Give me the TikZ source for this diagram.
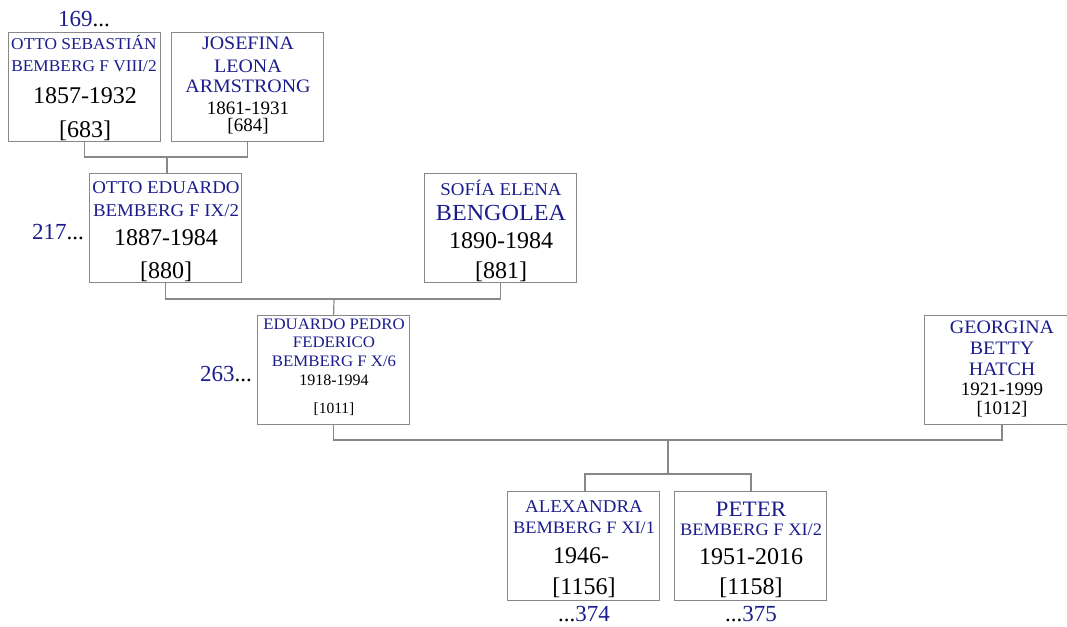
\documentclass[tikz,border=0pt]{standalone}
\usepackage{fontspec}
\setmainfont{Liberation Serif}
\definecolor{nameblue}{RGB}{28,28,140}
\definecolor{boxgray}{RGB}{136,136,136}
\newcommand{\fs}[1]{\fontsize{#1}{#1}\selectfont}
\tikzset{
  pbox/.style={draw=boxgray, line width=1.2pt, fill=white, minimum width=152pt, minimum height=109pt, inner sep=0pt, anchor=north west},
  nm/.style={text=nameblue, inner sep=0pt, anchor=base, font=\fs{#1}, xscale=1.05},
  dt/.style={text=black, inner sep=0pt, anchor=base, font=\fs{#1}},
  conn/.style={draw=boxgray, line width=1.2pt}
}
\begin{document}
\begin{tikzpicture}[x=1pt,y=-1pt]
\useasboundingbox (0,0) rectangle (1067,626);
% boxes
\node[pbox] (b1) at (8,32) {};
\node[pbox] (b2) at (171,32) {};
\node[pbox] (b3) at (89,173) {};
\node[pbox] (b4) at (424,173) {};
\node[pbox] (b5) at (257,315) {};
\node[pbox] (b6) at (924,315) {};
\node[pbox] (b7) at (507,491) {};
\node[pbox] (b8) at (674,491) {};
% connectors
\coordinate (j1) at (167,157);
\coordinate (j2) at (334,299);
\coordinate (j3) at (668,440);
\coordinate (j4) at (668,474);
\draw[conn] (b1.south) |- (j1) -| (b2.south);
\draw[conn] (j1) -- (b3.north -| j1);
\draw[conn] (b3.south) |- (j2) -| (b4.south);
\draw[conn] (j2) -- (b5.north);
\draw[conn] (b5.south) |- (j3) -| (1002,424);
\draw[conn] (j3) -- (j4);
\draw[conn] (b7.north -| 585,0) |- (j4) -| (b8.north -| 751,0);
% box 1
\node[nm=16.5] (t1a) at (84,50) {OTTO SEBASTIÁN};
\node[nm=16.5] (t1b) at (84,71) {BEMBERG F VIII/2};
\node[dt=24] (t1c) at (85,103) {1857-1932};
\node[dt=24] (t1d) at (85,137) {[683]};
% box 2
\node[nm=19] (t2a) at (248,50) {JOSEFINA};
\node[nm=19] (t2b) at (248,72) {LEONA};
\node[nm=19] (t2c) at (248,92) {ARMSTRONG};
\node[dt=19] (t2d) at (248,114) {1861-1931};
\node[dt=19] (t2e) at (248,131) {[684]};
% box 3
\node[nm=18] (t3a) at (166,193) {OTTO EDUARDO};
\node[nm=18] (t3b) at (166,216) {BEMBERG F IX/2};
\node[dt=24] (t3c) at (166,245) {1887-1984};
\node[dt=24] (t3d) at (166,278) {[880]};
% box 4
\node[nm=18] (t4a) at (501,195) {SOFÍA ELENA};
\node[nm=23] (t4b) at (501,220) {BENGOLEA};
\node[dt=24] (t4c) at (501,248) {1890-1984};
\node[dt=24] (t4d) at (501,278) {[881]};
% box 5
\node[nm=16] (t5a) at (334,329) {EDUARDO PEDRO};
\node[nm=16] (t5b) at (334,347) {FEDERICO};
\node[nm=16] (t5c) at (334,366) {BEMBERG F X/6};
\node[dt=16] (t5d) at (334,385) {1918-1994};
\node[dt=15.5] (t5e) at (334,413) {[1011]};
% box 6
\node[nm=19] (t6a) at (1002,333) {GEORGINA};
\node[nm=19] (t6b) at (1002,354) {BETTY};
\node[nm=19] (t6c) at (1002,375) {HATCH};
\node[dt=19] (t6d) at (1002,395) {1921-1999};
\node[dt=19] (t6e) at (1002,414) {[1012]};
% box 7
\node[nm=18] (t7a) at (584,512) {ALEXANDRA};
\node[nm=17.5] (t7b) at (584,533) {BEMBERG F XI/1};
\node[dt=24] (t7c) at (581,563) {1946-};
\node[dt=24] (t7d) at (584,594) {[1156]};
% box 8
\node[nm=22] (t8a) at (751,516) {PETER};
\node[nm=17.5] (t8b) at (751,535) {BEMBERG F XI/2};
\node[dt=24] (t8c) at (751,564) {1951-2016};
\node[dt=24] (t8d) at (751,594) {[1158]};
% outer references
\node[dt=23] (r1) at (84,27) {\textcolor{nameblue}{169}...};
\node[dt=23, anchor=base east] (r2) at (84,239) {\textcolor{nameblue}{217}...};
\node[dt=23, anchor=base east] (r3) at (252,381) {\textcolor{nameblue}{263}...};
\node[dt=23] (r4) at (584,621) {...\textcolor{nameblue}{374}};
\node[dt=23] (r5) at (751,621) {...\textcolor{nameblue}{375}};
\end{tikzpicture}
\end{document}
